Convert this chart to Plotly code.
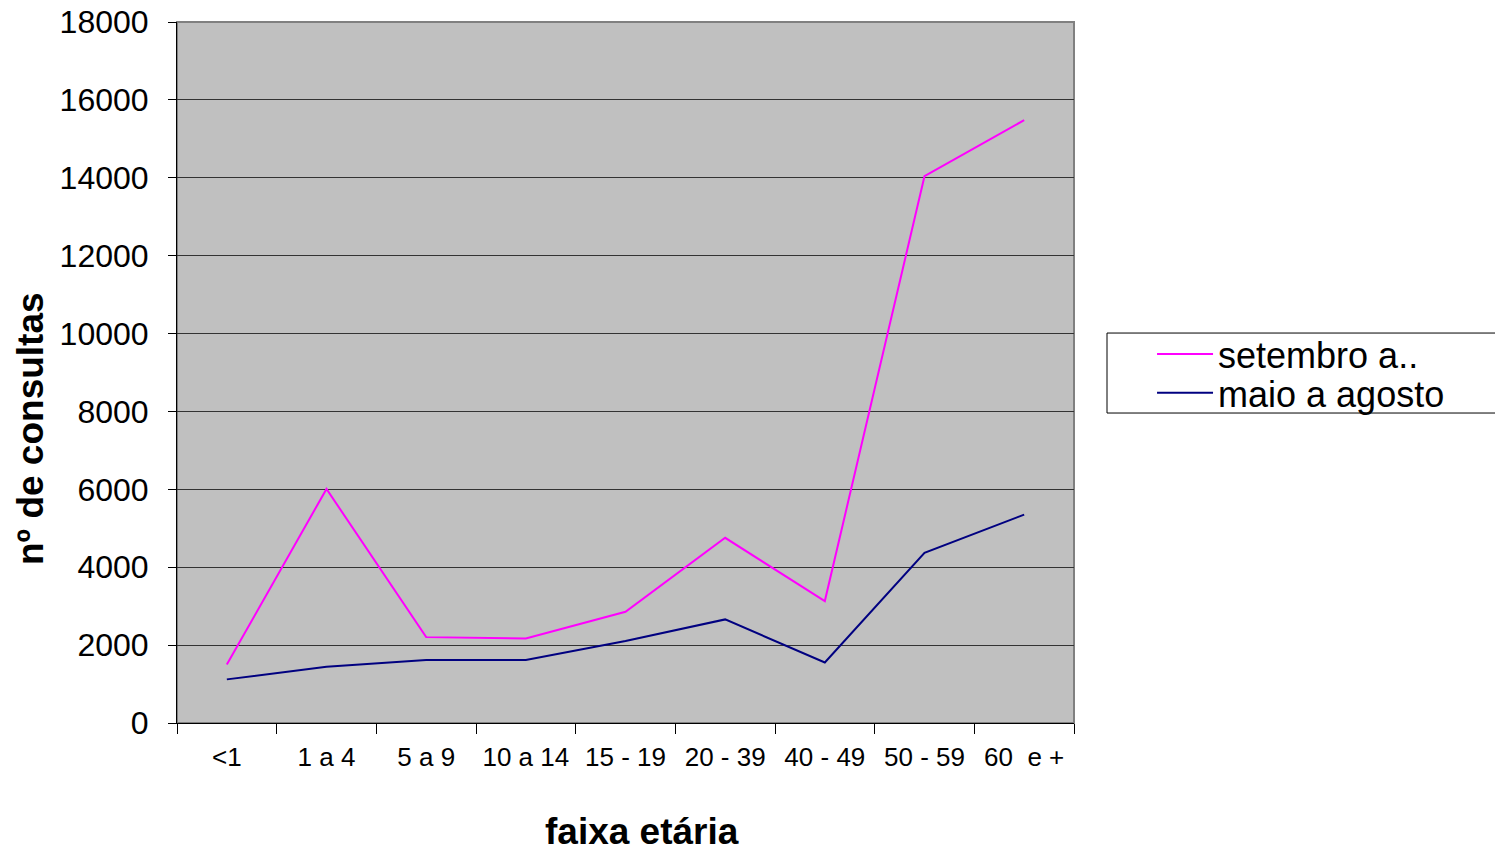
import plotly.graph_objects as go

faixas = ["<1", "1 a 4", "5 a 9", "10 a 14", "15 - 19", "20 - 39", "40 - 49", "50 - 59", "60  e +"]
setembro = [1500, 6010, 2205, 2170, 2855, 4755, 3130, 14040, 15480]
maio_agosto = [1120, 1445, 1615, 1615, 2105, 2660, 1555, 4370, 5350]

font = "Liberation Sans, Arial, sans-serif"

fig = go.Figure()
fig.add_trace(go.Scatter(x=faixas, y=setembro, mode="lines", name="setembro a..",
                         line=dict(color="#ff00ff", width=2), legend="legend"))
fig.add_trace(go.Scatter(x=faixas, y=maio_agosto, mode="lines", name="maio a agosto",
                         line=dict(color="#000080", width=2), legend="legend2"))

leg = dict(x=1.087, xanchor="left", yanchor="middle", bgcolor="rgba(0,0,0,0)",
           borderwidth=0, font=dict(size=36, family=font), itemwidth=56)

fig.update_layout(
    width=1495, height=852,
    margin=dict(l=177, r=421, t=22, b=129, autoexpand=False),
    paper_bgcolor="white",
    plot_bgcolor="#c0c0c0",
    font=dict(family=font, color="black", size=24),
    showlegend=True,
    legend=dict(leg, y=0.5264),
    legend2=dict(leg, y=0.4708),
    xaxis=dict(
        type="category", tickson="boundaries", ticks="outside", ticklen=10,
        tickcolor="black", showline=True, linecolor="black", linewidth=1,
        showgrid=False, tickfont=dict(size=26), ticklabelstandoff=11,
        range=[-0.5, 8.5], automargin=False,
    ),
    yaxis=dict(
        range=[0, 18000], dtick=2000, tickformat="d", ticks="outside", ticklen=8,
        tickcolor="black", showline=True, linecolor="black", linewidth=1,
        showgrid=True, gridcolor="#333333", gridwidth=1,
        tickfont=dict(size=32), zeroline=False, ticklabelstandoff=13,
        ticklabeloverflow="allow", automargin=False,
    ),
    annotations=[
        dict(text="<b>faixa etária</b>", xref="paper", yref="paper",
             x=(642 - 177) / 897, y=(723 - 831) / 701, xanchor="center", yanchor="middle",
             showarrow=False, font=dict(size=37)),
        dict(text="<b>nº de consultas</b>", xref="paper", yref="paper",
             x=(30 - 177) / 897, y=(723 - 429) / 701, xanchor="center", yanchor="middle",
             textangle=-90, showarrow=False, font=dict(size=37)),
    ],
    shapes=[
        dict(type="rect", xref="paper", yref="paper", x0=0, x1=1, y0=0, y1=1,
             line=dict(color="#808080", width=2), layer="below"),
        dict(type="rect", xref="paper", yref="paper", x0=1.0368, x1=1.5, y0=0.4422, y1=0.5563,
             line=dict(color="black", width=1), fillcolor="white", layer="below"),
    ],
)

# drop the browser's default 8px body margin so the figure fills the window
fig.write_html("out.html", config={"displayModeBar": False},
               post_script="document.body.style.margin='0';")
